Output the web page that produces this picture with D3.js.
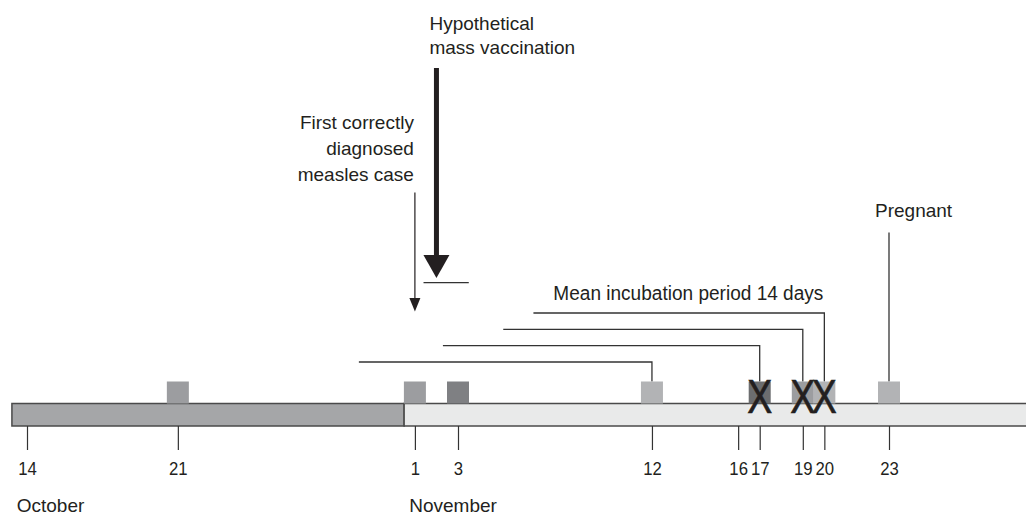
<!DOCTYPE html>
<html>
<head>
<meta charset="utf-8">
<script src="https://cdn.jsdelivr.net/npm/d3@7"></script>
<style>
  html, body { margin: 0; padding: 0; background: #fff; }
  svg { display: block; }
  text { font-family: "Liberation Sans", Arial, Helvetica, sans-serif; fill: #231f20; }
</style>
</head>
<body>
<svg id="chart" width="1026" height="515"></svg>
<script>
// ---------- DATA (days counted from 14 October) ----------
const tickDays   = [0, 7, 18, 20, 29, 33, 34, 36, 37, 40];
const tickLabels = ["14", "21", "1", "3", "12", "16", "17", "19", "20", "23"];

const monthNames     = ["October", "November"];
const monthStartDays = [0, 18];

// background periods of the time bar
const periodStarts = [-0.7, 17.5];
const periodEnds   = [17.5, 48];
const periodKinds  = ["before", "after"];

// measles cases
const caseDays   = [7, 18, 20, 29, 34, 36, 37, 40];
const caseGroups = ["g2", "g2", "g3", "g1", "g4", "g2", "g1", "g1"];
const caseDied   = [false, false, false, false, true, true, true, false];

// incubation links (exposure day -> case day)
const incubationStartDays = [15.4, 19.3, 22.1, 23.5];
const incubationEndDays   = [29, 34, 36, 37];
const incubationLevels    = [0, 1, 2, 3];
const incubationLabel     = "Mean incubation period 14 days";

// annotations
const firstDiagnosisDay   = 18;
const firstDiagnosisLabel = ["First correctly", "diagnosed", "measles case"];
const vaccinationDay      = 19;
const vaccinationSpan     = [18.4, 20.5];
const vaccinationLabel    = ["Hypothetical", "mass vaccination"];
const pregnantDay         = 40;
const pregnantLabel       = "Pregnant";

// ---------- STYLES / LAYOUT ----------
const periodFill = { before: "#a5a6a8", after: "#e9eaea" };
const caseFill   = { g1: "#b2b3b5", g2: "#9c9da0", g3: "#7f8083", g4: "#6c6d6f" };
const ink = "#231f20";

const W = 1026, H = 515;
const barTop = 403.5, barH = 22.5;
const sq = 22;
const tickLen = 24;
const digitW = 9.3;   // condensed digit width of the tick labels

const svg = d3.select("#chart");

const x = d3.scaleLinear().domain([0, 40]).range([27, 889]);
const levelY = d3.scaleLinear().domain([0, 3]).range([362, 313]);

// ---------- time bar ----------
const periods = periodStarts.map((s, i) => ({ s, e: periodEnds[i], k: periodKinds[i] }));
svg.append("g").selectAll("rect").data(periods).join("rect")
  .attr("x", d => x(d.s)).attr("y", barTop)
  .attr("width", d => x(d.e) - x(d.s)).attr("height", barH)
  .attr("fill", d => periodFill[d.k])
  .attr("stroke", "#4a4a4a").attr("stroke-width", 1.5);

// ---------- axis ----------
const axis = d3.axisBottom(x)
  .tickValues(tickDays)
  .tickFormat((d, i) => tickLabels[i])
  .tickSizeInner(tickLen).tickSizeOuter(0).tickPadding(8);
const gAxis = svg.append("g").attr("transform", `translate(0,${barTop + barH})`).call(axis);
gAxis.select(".domain").remove();
gAxis.selectAll(".tick line").attr("stroke", "#333").attr("stroke-width", 1.2);
gAxis.selectAll(".tick text")
  .attr("font-size", 19).attr("fill", ink)
  .attr("font-family", "'Liberation Sans', Arial, sans-serif")
  .attr("dy", null).attr("y", tickLen + 25)
  .attr("textLength", function () { return this.textContent.length * digitW; })
  .attr("lengthAdjust", "spacingAndGlyphs");

// month labels aligned with left edge of their first tick label
monthNames.forEach((m, i) => {
  const lbl = tickLabels[tickDays.indexOf(monthStartDays[i])];
  const left = x(monthStartDays[i]) - lbl.length * digitW / 2;
  svg.append("text").attr("x", left - 1).attr("y", 512)
    .attr("font-size", 19).text(m);
});

// ---------- incubation links ----------
const links = incubationStartDays.map((s, i) => ({ s, e: incubationEndDays[i], l: incubationLevels[i] }));
svg.append("g").selectAll("path").data(links).join("path")
  .attr("d", d => `M${x(d.s)},${levelY(d.l)}H${x(d.e)}V${barTop - sq}`)
  .attr("fill", "none").attr("stroke", "#333").attr("stroke-width", 1.3);

const lastLink = links[links.length - 1];
svg.append("text")
  .attr("x", x(lastLink.e) - 1).attr("y", levelY(lastLink.l) - 13)
  .attr("text-anchor", "end").attr("font-size", 19.5)
  .attr("textLength", 270).attr("lengthAdjust", "spacingAndGlyphs")
  .text(incubationLabel);

// ---------- pregnant marker ----------
svg.append("line")
  .attr("x1", x(pregnantDay)).attr("x2", x(pregnantDay))
  .attr("y1", 232.5).attr("y2", barTop - sq)
  .attr("stroke", "#333").attr("stroke-width", 1.3);
svg.append("text").attr("x", x(pregnantDay) - 14).attr("y", 216.5)
  .attr("font-size", 19).text(pregnantLabel);

// ---------- cases ----------
const cases = caseDays.map((d, i) => ({ d, g: caseGroups[i], died: caseDied[i] }));
svg.append("g").selectAll("rect").data(cases).join("rect")
  .attr("x", c => x(c.d) - sq / 2).attr("y", barTop - sq)
  .attr("width", sq).attr("height", sq)
  .attr("fill", c => caseFill[c.g]);

svg.append("g").selectAll("text").data(cases.filter(c => c.died)).join("text")
  .attr("x", c => x(c.d) - 12.5).attr("y", 412.5)
  .attr("font-size", 49)
  .attr("textLength", 25).attr("lengthAdjust", "spacingAndGlyphs")
  .attr("stroke", ink).attr("stroke-width", 0.7)
  .text("X");

// ---------- first diagnosed case arrow ----------
const fx = x(firstDiagnosisDay);
svg.append("line").attr("x1", fx).attr("x2", fx).attr("y1", 192.5).attr("y2", 300)
  .attr("stroke", "#231f20").attr("stroke-width", 1.2);
svg.append("path")
  .attr("d", `M${fx - 5.5},298L${fx + 5.5},298L${fx},311.5Z`).attr("fill", ink);
const fText = svg.append("text").attr("text-anchor", "end").attr("font-size", 19);
firstDiagnosisLabel.forEach((t, i) => {
  fText.append("tspan").attr("x", fx - 1).attr("y", 128.5 + i * 26).text(t);
});

// ---------- hypothetical mass vaccination arrow ----------
const vx = x(vaccinationDay);
svg.append("line").attr("x1", vx).attr("x2", vx).attr("y1", 68).attr("y2", 258)
  .attr("stroke", ink).attr("stroke-width", 5);
svg.append("path")
  .attr("d", `M${vx - 13},255L${vx + 13},255L${vx},278Z`).attr("fill", ink);
svg.append("line")
  .attr("x1", x(vaccinationSpan[0])).attr("x2", x(vaccinationSpan[1]))
  .attr("y1", 282.7).attr("y2", 282.7)
  .attr("stroke", "#333").attr("stroke-width", 1.3);
const vText = svg.append("text").attr("font-size", 19);
vaccinationLabel.forEach((t, i) => {
  vText.append("tspan").attr("x", vx - 7).attr("y", 29.5 + i * 24).text(t);
});
</script>
</body>
</html>
